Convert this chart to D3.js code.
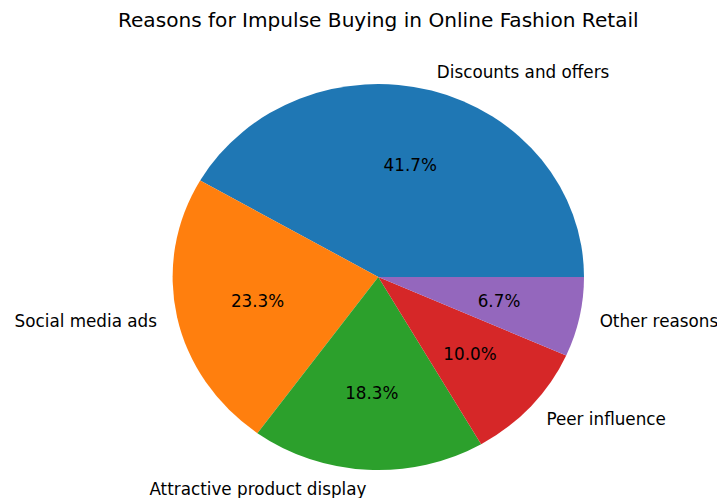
<!DOCTYPE html>
<html>
<head>
<meta charset="utf-8">
<script src="https://cdn.jsdelivr.net/npm/d3@7"></script>
<style>
  html, body { margin: 0; padding: 0; background: #fff; }
  svg { display: block; font-family: "DejaVu Sans", sans-serif; }
</style>
</head>
<body>
<svg id="chart" width="717" height="498"></svg>
<script>
const categories = ["Discounts and offers", "Social media ads", "Attractive product display", "Peer influence", "Other reasons"];
const values = [25, 14, 11, 6, 4];
const colors = ["#1f77b4", "#ff7f0e", "#2ca02c", "#d62728", "#9467bd"];
const title = "Reasons for Impulse Buying in Online Fashion Retail";

const W = 717, H = 498;
const cx = 378.3, cy = 277, rx = 205.7, ry = 193;
const svg = d3.select("#chart");

const total = d3.sum(values);
// matplotlib: start at 3 o'clock, counterclockwise. d3: clockwise from 12 o'clock.
const pie = d3.pie().sort(null).startAngle(Math.PI / 2).endAngle(Math.PI / 2 - 2 * Math.PI);
const arcs = pie(values);
const arc = d3.arc().innerRadius(0).outerRadius(rx);

const g = svg.append("g").attr("transform", `translate(${cx},${cy}) scale(1,${ry / rx})`);
g.selectAll("path").data(arcs).join("path")
  .attr("d", arc)
  .attr("fill", (d, i) => colors[i]);

const fmt = d3.format(".1f");
function pos(d, f) {
  const a = (d.startAngle + d.endAngle) / 2; // d3 angle, clockwise from north
  return [cx + f * rx * Math.sin(a), cy - f * ry * Math.cos(a)];
}

svg.selectAll("text.pct").data(arcs).join("text")
  .attr("class", "pct")
  .attr("x", d => pos(d, 0.6)[0])
  .attr("y", d => pos(d, 0.6)[1])
  .attr("text-anchor", "middle")
  .attr("dominant-baseline", "central")
  .attr("font-size", "16.8px")
  .attr("fill", "#000")
  .text(d => fmt(d.value / total * 100) + "%");

svg.selectAll("text.lbl").data(arcs).join("text")
  .attr("class", "lbl")
  .attr("x", d => pos(d, 1.1)[0])
  .attr("y", d => pos(d, 1.1)[1])
  .attr("text-anchor", d => Math.sin((d.startAngle + d.endAngle) / 2) > 0 ? "start" : "end")
  .attr("dominant-baseline", "central")
  .attr("font-size", "16.8px")
  .attr("fill", "#000")
  .text((d, i) => categories[i]);

svg.append("text")
  .attr("x", cx)
  .attr("y", 27)
  .attr("text-anchor", "middle")
  .attr("font-size", "20.1px")
  .attr("fill", "#000")
  .text(title);
</script>
</body>
</html>
